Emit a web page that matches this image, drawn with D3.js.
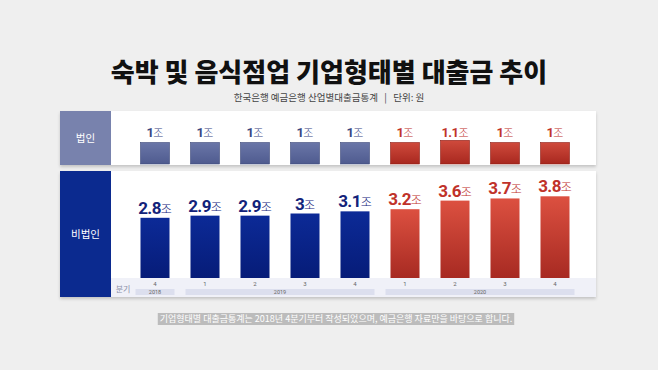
<!DOCTYPE html>
<html>
<head>
<meta charset="utf-8">
<script src="https://cdn.jsdelivr.net/npm/d3@7"></script>
<style>
  body { margin: 0; background: #efefef; }
  svg { display: block; }
  text { white-space: pre; }
</style>
</head>
<body>
<svg width="658" height="370"></svg>
<script>
const quarters = ["4", "1", "2", "3", "4", "1", "2", "3", "4"];
const years = ["2018", "2019", "2019", "2019", "2019", "2020", "2020", "2020", "2020"];
const corpValues = [1, 1, 1, 1, 1, 1, 1.1, 1, 1];
const nonCorpValues = [2.8, 2.9, 2.9, 3, 3.1, 3.2, 3.6, 3.7, 3.8];
const corpLabels = ["1", "1", "1", "1", "1", "1", "1.1", "1", "1"];
const nonCorpLabels = ["2.8", "2.9", "2.9", "3", "3.1", "3.2", "3.6", "3.7", "3.8"];

const svg = d3.select("svg");
const kr = "'Noto Sans CJK KR', 'Noto Sans', sans-serif";
const num = "Roboto, 'Liberation Sans', sans-serif";

const defs = svg.append("defs");
function grad(id, c1, c2) {
  const lg = defs.append("linearGradient").attr("id", id)
    .attr("x1", 0).attr("y1", 0).attr("x2", 0).attr("y2", 1);
  lg.append("stop").attr("offset", "0%").attr("stop-color", c1);
  lg.append("stop").attr("offset", "100%").attr("stop-color", c2);
}
grad("blueTop", "#6a76a8", "#4f5b8f");
grad("redTop", "#cf4a3c", "#a8281f");
grad("blueBot", "#0c2a97", "#061c78");
grad("redBot", "#dc5040", "#a72a22");
const sh = defs.append("filter").attr("id", "shadow").attr("x", "-5%").attr("y", "-10%").attr("width", "110%").attr("height", "130%");
sh.append("feDropShadow").attr("dx", 0).attr("dy", 2).attr("stdDeviation", 1.5).attr("flood-color", "#000").attr("flood-opacity", 0.18);

// title
svg.append("text").attr("x", 329).attr("y", 82).attr("text-anchor", "middle")
  .style("font-family", kr).style("font-weight", 900).style("font-size", "26px")
  .attr("fill", "#111").text("숙박 및 음식점업 기업형태별 대출금 추이");
svg.append("text").attr("x", 329).attr("y", 101).attr("text-anchor", "middle")
  .style("font-family", kr).style("font-size", "9.5px").attr("fill", "#444")
  .text("한국은행 예금은행 산업별대출금통계   |   단위: 원");

// x scale
const x = d3.scaleBand().domain(d3.range(quarters.length)).range([130, 580]).paddingInner(0.42).paddingOuter(0.21);
const isRed = i => years[i] === "2020";

// panels
const panelX0 = 60, panelX1 = 596, labelW = 51;
function panel(y0, y1, label, boxColor) {
  svg.append("rect").attr("x", panelX0).attr("y", y0).attr("width", panelX1 - panelX0).attr("height", y1 - y0)
    .attr("fill", "#fff").attr("filter", "url(#shadow)");
  svg.append("rect").attr("x", panelX0).attr("y", y0).attr("width", labelW).attr("height", y1 - y0).attr("fill", boxColor);
  svg.append("text").attr("x", panelX0 + labelW / 2).attr("y", (y0 + y1) / 2 + 4).attr("text-anchor", "middle")
    .style("font-family", kr).style("font-size", "10.5px").attr("fill", "#fff").text(label);
}
panel(111, 165, "법인", "#7882ad");
panel(171, 297, "비법인", "#0b2a8f");

// value scales (same units for both panels)
const yTop = d3.scaleLinear().domain([0, 4]).range([164, 78]);
const yBot = d3.scaleLinear().domain([0, 4]).range([278, 192]);

// top bars
svg.selectAll(".tbar").data(corpValues).join("rect")
  .attr("x", (d, i) => x(i)).attr("width", x.bandwidth())
  .attr("y", d => yTop(d)).attr("height", d => yTop(0) - yTop(d))
  .attr("fill", (d, i) => isRed(i) ? "url(#redTop)" : "url(#blueTop)")
  .attr("stroke", (d, i) => isRed(i) ? "#8e1e17" : "#3f4a7a").attr("stroke-width", 0.6);

function valueLabel(sel, size, unitSize) {
  sel.append("tspan").style("font-family", num).style("font-weight", 700).style("font-size", size + "px")
    .attr("letter-spacing", "-0.6").text(d => d.label);
  sel.append("tspan").style("font-family", kr).style("font-weight", 300).style("font-size", unitSize + "px").text("조");
}
svg.selectAll(".tlab").data(corpValues.map((v, i) => ({ v, i, label: corpLabels[i] }))).join("text")
  .attr("x", d => x(d.i) + x.bandwidth() / 2).attr("y", 137).attr("text-anchor", "middle")
  .attr("fill", d => isRed(d.i) ? "#c0322a" : "#3a4680")
  .call(valueLabel, 13, 11);

// bottom axis strip
svg.append("rect").attr("x", panelX0 + labelW).attr("y", 278).attr("width", panelX1 - panelX0 - labelW).attr("height", 19).attr("fill", "#f0f1f8");
svg.append("text").attr("x", 123).attr("y", 292).attr("text-anchor", "middle")
  .style("font-family", kr).style("font-size", "8px").attr("fill", "#8a8fa8").text("분기");

// bottom bars
svg.selectAll(".bbar").data(nonCorpValues).join("rect")
  .attr("x", (d, i) => x(i)).attr("width", x.bandwidth())
  .attr("y", d => yBot(d)).attr("height", d => yBot(0) - yBot(d))
  .attr("fill", (d, i) => isRed(i) ? "url(#redBot)" : "url(#blueBot)");

svg.selectAll(".blab").data(nonCorpValues.map((v, i) => ({ v, i, label: nonCorpLabels[i] }))).join("text")
  .attr("x", d => x(d.i) + x.bandwidth() / 2).attr("y", d => yBot(d.v) - 4).attr("text-anchor", "middle")
  .attr("fill", d => isRed(d.i) ? "#c0322a" : "#13237a")
  .call(valueLabel, 17, 12);

// quarter labels
svg.selectAll(".q").data(quarters).join("text")
  .attr("x", (d, i) => x(i) + x.bandwidth() / 2).attr("y", 286).attr("text-anchor", "middle")
  .style("font-family", num).style("font-size", "6px").attr("fill", "#666").text(d => d);

// year groups
const yearGroups = d3.groups(years.map((y, i) => ({ y, i })), d => d.y);
yearGroups.forEach(([yr, items]) => {
  const a = x(items[0].i) - 5, b = x(items[items.length - 1].i) + x.bandwidth() + 5;
  svg.append("rect").attr("x", a).attr("y", 289).attr("width", b - a).attr("height", 6).attr("fill", "#dcdfee");
  svg.append("text").attr("x", (a + b) / 2).attr("y", 294).attr("text-anchor", "middle")
    .style("font-family", num).style("font-size", "5.5px").attr("fill", "#666").text(yr);
});

// footnote
const note = svg.append("text").attr("x", 336).attr("y", 322).attr("text-anchor", "middle")
  .style("font-family", kr).style("font-size", "9px").attr("fill", "#fff")
  .text("기업형태별 대출금통계는 2018년 4분기부터 작성되었으며, 예금은행 자료만을 바탕으로 합니다.");
const bb = note.node().getBBox();
svg.insert("rect", "text:last-of-type").attr("x", bb.x - 2).attr("y", bb.y + 1).attr("width", bb.width + 4).attr("height", bb.height - 1)
  .attr("fill", "#bcbcbc");
note.raise();
</script>
</body>
</html>
